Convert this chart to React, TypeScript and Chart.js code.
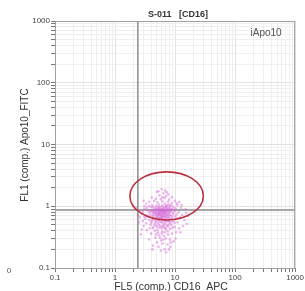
import React, { useEffect, useRef } from "react";
import { Chart, registerables } from "chart.js";

Chart.register(...registerables);

const TITLE = "S-011   [CD16]";
const PANEL_LABEL = "iApo10";
const X_TITLE = "FL5 (comp.) CD16_APC";
const Y_TITLE = "FL1 (comp.) Apo10_FITC";
const STRAY_LABEL = "0";
const DECADES = [0.1, 1, 10, 100, 1000];
const DECADE_LABELS = ["0.1", "1", "10", "100", "1000"];
const GATE_X = 2.4;
const GATE_Y = 0.87;
const ELLIPSE_X = [1.77, 29.6];
const ELLIPSE_Y = [0.6, 3.6];

const EVENTS: [number, number][] = [
  [4.4, 0.82], [5.2, 0.78], [6.2, 0.85], [7.1, 0.8], [3.9, 0.74], [4.9, 0.69], [5.7, 0.72], [6.7, 0.66], [7.8, 0.75], [8.6, 0.83],
  [4.2, 0.88], [5.4, 0.91], [6.5, 0.94], [7.5, 0.89], [4.7, 0.95], [5.9, 0.86], [6.9, 0.92], [8.2, 0.87], [3.7, 0.8], [9.4, 0.79],
  [4.3, 0.63], [5.1, 0.6], [6.0, 0.58], [7.1, 0.62], [8.0, 0.65], [3.8, 0.67], [4.8, 0.55], [5.6, 0.64], [6.6, 0.71], [7.6, 0.57],
  [4.5, 0.52], [5.4, 0.5], [6.3, 0.53], [7.3, 0.48], [4.1, 0.57], [5.0, 0.46], [6.0, 0.44], [6.8, 0.51], [8.4, 0.55], [9.0, 0.68],
  [5.3, 0.83], [5.8, 0.8], [6.1, 0.76], [4.8, 0.77], [4.3, 0.71], [5.5, 0.67], [6.5, 0.61], [7.2, 0.7], [7.7, 0.81], [6.4, 0.88],
  [4.6, 0.86], [5.1, 0.93], [4.0, 0.97], [7.0, 0.98], [7.9, 0.95], [8.8, 0.9], [10.0, 0.85], [10.6, 0.74], [3.3, 0.72], [3.5, 0.86],
  [5.2, 0.7], [5.9, 0.69], [6.2, 0.64], [4.8, 0.62], [7.4, 0.64], [8.3, 0.61], [3.7, 0.6], [3.2, 0.63], [9.7, 0.62], [9.2, 0.57],
  [4.4, 0.47], [5.7, 0.48], [6.6, 0.45], [7.7, 0.47], [3.9, 0.5], [8.7, 0.5], [5.1, 0.41], [6.1, 0.39], [7.1, 0.42], [4.6, 0.4],
  [5.4, 0.77], [6.0, 0.82], [5.0, 0.74], [6.8, 0.77], [6.5, 0.69], [5.4, 0.58], [4.3, 0.78], [8.1, 0.71], [7.1, 0.86], [5.6, 0.95],
  [6.0, 0.99], [4.9, 1.02], [7.3, 1.04], [5.4, 1.07], [6.7, 1.1], [8.2, 1.01], [4.2, 1.05], [9.3, 0.97], [10.2, 0.93], [3.1, 0.9],
  [2.8, 0.76], [2.9, 0.58], [2.6, 0.66], [2.5, 0.85], [3.0, 0.48], [2.5, 0.55], [3.1, 1.0], [2.8, 0.42], [11.5, 0.8], [12.1, 0.66],
  [13.2, 0.72], [11.0, 0.55], [14.3, 0.6], [10.9, 1.05], [12.6, 0.95], [15.3, 0.78], [9.8, 0.46], [11.7, 0.44], [10.4, 0.38], [8.9, 0.36],
  [7.6, 0.35], [6.5, 0.33], [5.4, 0.34], [4.7, 0.31], [4.0, 0.36], [3.4, 0.41], [7.0, 0.3], [8.2, 0.29], [5.9, 0.28], [5.0, 0.26],
  [6.3, 0.25], [7.5, 0.24], [5.3, 0.22], [6.7, 0.2], [4.3, 0.23], [8.4, 0.22], [5.8, 0.19], [7.1, 0.18], [9.5, 0.27], [3.7, 0.29],
  [5.1, 1.15], [6.2, 1.2], [7.6, 1.18], [4.5, 1.22], [8.8, 1.13], [5.8, 1.3], [6.6, 1.36], [8.0, 1.28], [4.8, 1.33], [7.1, 1.45],
  [5.5, 1.5], [6.4, 1.62], [7.7, 1.55], [5.0, 1.7], [6.8, 1.8], [6.0, 1.9], [5.3, 1.75], [8.9, 1.4], [4.1, 1.38], [3.7, 1.18],
  [7.3, 1.68], [6.2, 1.4], [9.9, 1.22], [10.8, 1.12], [3.3, 1.1], [3.0, 1.22], [11.8, 1.18], [12.9, 1.05], [14.9, 0.9], [16.5, 0.7],
  [2.4, 0.7], [2.3, 0.95], [13.6, 0.48], [12.3, 0.38], [15.7, 0.52], [2.7, 0.35], [10.2, 0.3], [8.5, 0.26], [4.2, 0.2], [7.9, 0.2],
  [4.8, 0.84], [5.4, 0.81], [6.0, 0.87], [6.5, 0.83], [7.2, 0.85], [7.9, 0.82], [4.1, 0.83], [4.5, 0.9], [5.6, 0.88], [6.3, 0.92],
  [7.4, 0.94], [8.4, 0.92], [4.3, 0.97], [5.3, 0.99], [6.2, 1.03], [7.1, 1.0], [7.8, 1.07], [4.8, 0.72], [5.5, 0.74], [6.0, 0.7],
  [6.7, 0.74], [7.5, 0.72], [8.2, 0.78], [4.2, 0.69], [4.6, 0.65], [5.3, 0.64], [6.0, 0.63], [6.5, 0.57], [7.2, 0.59], [7.9, 0.58],
  [8.8, 0.63], [3.6, 0.7], [3.9, 0.84], [5.8, 0.55], [5.2, 0.53], [4.7, 0.58], [6.4, 0.49], [7.0, 0.55], [8.1, 0.52], [4.0, 0.54],
  [4.8, 0.49], [5.5, 0.45], [6.2, 0.47], [6.9, 0.44], [7.6, 0.5], [4.3, 0.44], [5.2, 0.37], [6.0, 0.36], [6.7, 0.38], [7.5, 0.39],
  [4.8, 0.35], [5.6, 0.31], [6.4, 0.29], [3.8, 0.44], [8.3, 0.43], [9.1, 0.45], [9.8, 0.54], [10.1, 0.69], [9.3, 0.75], [10.9, 0.64],
  [3.3, 0.53], [3.1, 0.68], [2.9, 0.82], [3.4, 0.94], [3.7, 1.01], [8.6, 1.04], [9.5, 0.88], [5.9, 0.76], [5.1, 0.86], [6.6, 0.79],
  [7.3, 0.75], [4.5, 0.75], [5.4, 0.61], [6.1, 0.67], [6.8, 0.6], [5.8, 0.63], [5.0, 0.66], [7.7, 0.67], [6.5, 0.8], [5.7, 0.84],
  [6.9, 0.83], [8.0, 0.88], [4.7, 0.8], [4.2, 0.6], [8.5, 0.71], [5.4, 0.73], [6.3, 0.75], [6.0, 0.9], [7.1, 0.68], [4.9, 0.89],
];

const TICK_VALUES: number[] = [];
DECADES.forEach((d, i) => {
  if (i === DECADES.length - 1) {
    TICK_VALUES.push(d);
  } else {
    for (let m = 1; m <= 9; m++) TICK_VALUES.push(Number((d * m).toPrecision(6)));
  }
});

const decadeIndex = (v: number) => DECADES.findIndex((d) => Math.abs(d - v) / d < 1e-6);

const FONT = "'Liberation Sans', Arial, sans-serif";

const overlayPlugin = {
  id: "overlay",
  beforeDatasetsDraw(chart: any) {
    const { ctx, chartArea: a, scales } = chart;
    ctx.save();
    ctx.strokeStyle = "#8c8c8c";
    ctx.lineWidth = 1.5;
    const gx = scales.x.getPixelForValue(GATE_X);
    const gy = scales.y.getPixelForValue(GATE_Y);
    ctx.beginPath();
    ctx.moveTo(gx, a.top);
    ctx.lineTo(gx, a.bottom);
    ctx.moveTo(a.left, gy);
    ctx.lineTo(a.right, gy);
    ctx.stroke();
    ctx.restore();
  },
  afterDatasetsDraw(chart: any) {
    const { ctx, chartArea: a, scales } = chart;
    ctx.save();
    const x1 = scales.x.getPixelForValue(ELLIPSE_X[0]);
    const x2 = scales.x.getPixelForValue(ELLIPSE_X[1]);
    const y1 = scales.y.getPixelForValue(ELLIPSE_Y[1]);
    const y2 = scales.y.getPixelForValue(ELLIPSE_Y[0]);
    ctx.strokeStyle = "#b9313d";
    ctx.lineWidth = 1.6;
    ctx.beginPath();
    ctx.ellipse((x1 + x2) / 2, (y1 + y2) / 2, (x2 - x1) / 2, (y2 - y1) / 2, 0, 0, Math.PI * 2);
    ctx.stroke();
    ctx.strokeStyle = "#a0a0a0";
    ctx.lineWidth = 1;
    ctx.strokeRect(a.left + 0.5, a.top + 0.5, a.right - a.left - 1, a.bottom - a.top);
    ctx.restore();
  },
  afterDraw(chart: any) {
    const { ctx, chartArea: a } = chart;
    ctx.save();
    ctx.fillStyle = "#333";
    ctx.textAlign = "center";
    ctx.textBaseline = "middle";
    ctx.font = `bold 9px ${FONT}`;
    ctx.fillText(TITLE, (a.left + a.right) / 2 + 3, 15);
    ctx.font = `10px ${FONT}`;
    ctx.fillStyle = "#555";
    ctx.fillText(PANEL_LABEL, a.right - 29, 33);
    ctx.fillStyle = "#333";
    ctx.font = `10.5px ${FONT}`;
    ctx.fillText(X_TITLE, (a.left + a.right) / 2 - 4, 287);
    ctx.save();
    ctx.translate(25, 145);
    ctx.rotate(-Math.PI / 2);
    ctx.font = `10px ${FONT}`;
    ctx.fillText(Y_TITLE, 0, 0);
    ctx.restore();
    ctx.font = `8px ${FONT}`;
    ctx.fillStyle = "#555";
    ctx.fillText(STRAY_LABEL, 9, 271);
    ctx.restore();
  },
};

const axisCommon = (isX: boolean) => ({
  type: "logarithmic" as const,
  min: 0.1,
  max: 1000,
  afterBuildTicks: (scale: any) => {
    scale.ticks = TICK_VALUES.map((v) => ({ value: v }));
  },
  afterFit: (scale: any) => {
    if (isX) scale.height = 23;
    else scale.width = 55;
  },
  border: { display: true, color: "#8a8a8a", width: 1 },
  grid: {
    drawTicks: true,
    tickLength: 4,
    color: (c: any) => (c.tick && decadeIndex(c.tick.value) >= 0 ? "#e2e2e2" : "#efefef"),
    tickColor: "#777",
    lineWidth: 1,
  },
  ticks: {
    autoSkip: false,
    maxRotation: 0,
    padding: 1,
    color: "#444",
    font: { family: FONT, size: 8 },
    callback: (v: any) => {
      const i = decadeIndex(Number(v));
      return i >= 0 ? DECADE_LABELS[i] : "";
    },
  },
});

export default function App() {
  const ref = useRef<HTMLCanvasElement | null>(null);
  useEffect(() => {
    if (!ref.current) return;
    const chart = new Chart(ref.current, {
      type: "scatter",
      data: {
        datasets: [
          {
            data: EVENTS.map(([x, y]) => ({ x, y })),
            pointRadius: 1.3,
            pointBorderWidth: 0,
            pointBackgroundColor: "rgba(214, 96, 214, 0.45)",
          },
        ],
      },
      options: {
        animation: false,
        responsive: false,
        layout: { padding: { left: 0, top: 21, right: 4, bottom: 0 } },
        plugins: { legend: { display: false }, tooltip: { enabled: false }, title: { display: false } },
        scales: { x: axisCommon(true), y: axisCommon(false) } as any,
      },
      plugins: [overlayPlugin],
    });
    return () => chart.destroy();
  }, []);
  return (
    <div style={{ position: "absolute", left: 0, top: 0, width: 305, height: 291, background: "#fff" }}>
      <canvas ref={ref} width={305} height={291} />
    </div>
  );
}
